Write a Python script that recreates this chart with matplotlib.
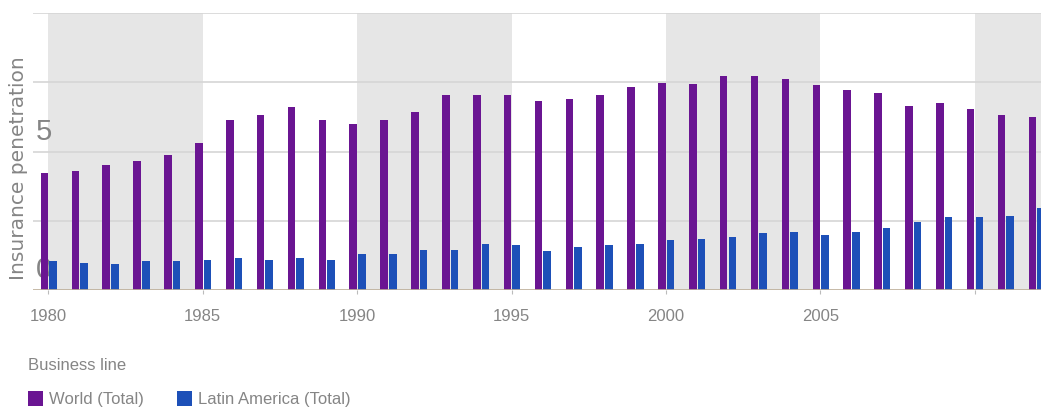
import numpy as np
import matplotlib.pyplot as plt
from matplotlib.patches import Patch
from matplotlib.transforms import offset_copy

# insurance penetration (% of GDP) by year
years = np.arange(1980, 2013)
world = [4.23, 4.29, 4.53, 4.67, 4.86, 5.31, 6.13, 6.32, 6.61, 6.13,
         5.98, 6.13, 6.42, 7.04, 7.04, 7.04, 6.82, 6.88, 7.04, 7.33,
         7.49, 7.45, 7.73, 7.73, 7.61, 7.40, 7.22, 7.10, 6.64, 6.76,
         6.55, 6.30, 6.26]
latam = [1.03, 0.97, 0.93, 1.03, 1.03, 1.09, 1.15, 1.09, 1.15, 1.09,
         1.30, 1.30, 1.45, 1.45, 1.66, 1.61, 1.42, 1.55, 1.61, 1.66,
         1.79, 1.84, 1.90, 2.05, 2.11, 1.99, 2.11, 2.23, 2.47, 2.62,
         2.62, 2.68, 2.96]

series_names = ["World (Total)", "Latin America (Total)"]
x_ticks = [1980, 1985, 1990, 1995, 2000, 2005, 2010]
x_tick_labels = ["1980", "1985", "1990", "1995", "2000", "2005", ""]
y_ticks = [0, 2.5, 5, 7.5, 10]
y_tick_labels = ["0", "", "5", "", ""]

purple = "#6a1592"
blue = "#1d50b8"
grey_text = "#858585"
narrow = "Liberation Sans"

W, H = 1041, 412
fig = plt.figure(figsize=(W / 100, H / 100), dpi=100)
ax = fig.add_axes([33 / W, 1 - 290 / H, 1 - 33 / W, (290 - 13) / H])

# alternating shaded half-decades
for start in range(1980, 2015, 10):
    ax.axvspan(start, start + 5, color="#e6e6e6", lw=0, zorder=0)

ax.bar(years - 0.25, world, width=0.245, align="edge", color=purple, zorder=3)
ax.bar(years + 0.03, latam, width=0.245, align="edge", color=blue, zorder=3)

ax.set_xlim(1979.5, 2012.15)
ax.set_ylim(0, 10)

for v in y_ticks[1:]:
    ax.axhline(v, color="#d6d6d6", lw=1.2, zorder=1)
ax.axhline(0, color="#bcae98", lw=1.2, zorder=4)

for s in ax.spines.values():
    s.set_visible(False)

ax.set_xticks(x_ticks)
ax.set_xticklabels(x_tick_labels, family=narrow, fontsize=12, color=grey_text)
ax.tick_params(axis="x", length=3, color="#bbbbbb", pad=11)

ax.set_yticks(y_ticks)
ax.set_yticklabels(y_tick_labels, family=narrow, fontsize=21, color=grey_text)
ax.tick_params(axis="y", length=0, pad=-2)
for lbl in ax.get_yticklabels():
    lbl.set_horizontalalignment("left")
    lbl.set_verticalalignment("bottom")
    lbl.set_transform(offset_copy(lbl.get_transform(), fig=fig, y=6, units="dots"))
    lbl.set_zorder(2)

fig.text(19 / W, 1 - 168 / H, "Insurance penetration", rotation=90,
         ha="center", va="center", fontsize=14.5, color=grey_text,
         family="DejaVu Sans")

handles = [Patch(facecolor=purple), Patch(facecolor=blue)]
leg = fig.legend(handles, series_names, title="Business line",
                 loc="upper left", bbox_to_anchor=(13 / W, 1 - 343 / H),
                 ncol=2, frameon=False, handlelength=0.9, handleheight=1.0,
                 handletextpad=0.35, columnspacing=2.0, alignment="left",
                 prop={"family": narrow, "size": 12},
                 title_fontproperties={"family": narrow, "size": 12})
leg.get_title().set_color(grey_text)
for t in leg.get_texts():
    t.set_color(grey_text)
leg._legend_box.sep = 13

fig.savefig("out.png", dpi=100)
